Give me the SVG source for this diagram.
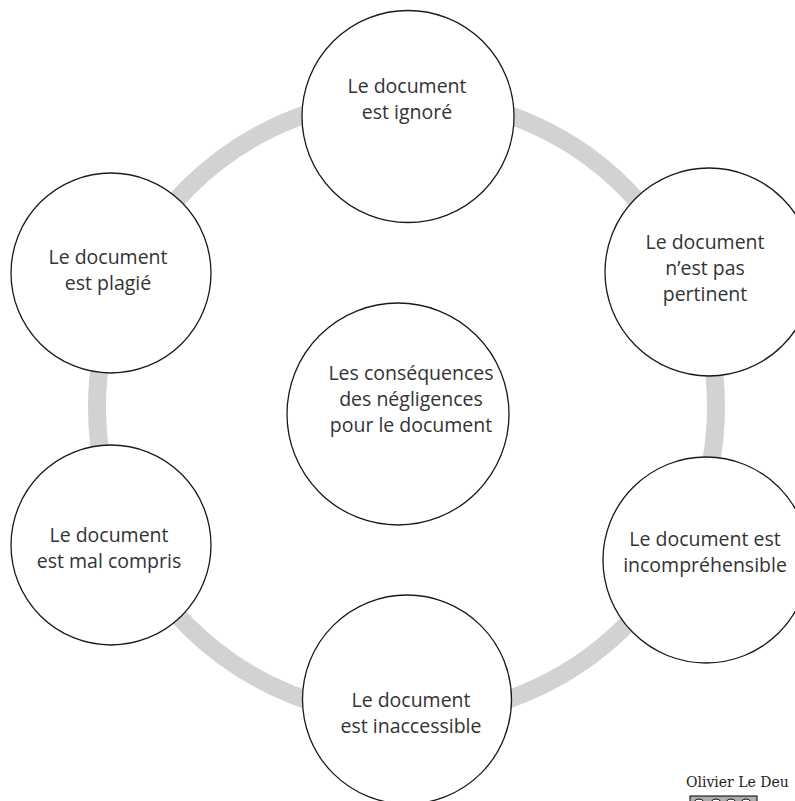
<svg xmlns="http://www.w3.org/2000/svg" width="795" height="801" viewBox="0 0 795 801">
<style>
.node{fill:#fff;stroke:#1a1a1a;stroke-width:1.3}
.lbl{font-family:"Open Sans","Noto Sans",sans-serif;font-size:19.5px;fill:#333;text-anchor:middle}
.ring{fill:none;stroke:#d1d2d4;stroke-width:18}
</style>
<rect width="795" height="801" fill="#fff"/>
<g id="connectors">
<circle class="ring" cx="406.5" cy="407" r="309.5"/>
</g>
<g id="n-top">
<circle class="node" cx="408" cy="116.5" r="106"/>
<text class="lbl" x="407" y="93">Le document</text>
<text class="lbl" x="407" y="119">est ignoré</text>
</g>
<g id="n-upper-right">
<circle class="node" cx="709" cy="272" r="104"/>
<text class="lbl" x="705" y="249">Le document</text>
<text class="lbl" x="705" y="275">n’est pas</text>
<text class="lbl" x="705" y="301">pertinent</text>
</g>
<g id="n-lower-right">
<circle class="node" cx="706" cy="560" r="103"/>
<text class="lbl" x="705" y="546">Le document est</text>
<text class="lbl" x="705" y="572">incompréhensible</text>
</g>
<g id="n-bottom">
<circle class="node" cx="407" cy="699.5" r="104.5"/>
<text class="lbl" x="411" y="707">Le document</text>
<text class="lbl" x="411" y="733">est inaccessible</text>
</g>
<g id="n-lower-left">
<circle class="node" cx="111" cy="545" r="100"/>
<text class="lbl" x="109" y="542">Le document</text>
<text class="lbl" x="109" y="568">est mal compris</text>
</g>
<g id="n-upper-left">
<circle class="node" cx="111" cy="273" r="100"/>
<text class="lbl" x="108" y="264">Le document</text>
<text class="lbl" x="108" y="290">est plagié</text>
</g>
<g id="n-center">
<circle class="node" cx="398" cy="414" r="111"/>
<text class="lbl" x="411" y="380">Les conséquences</text>
<text class="lbl" x="411" y="406">des négligences</text>
<text class="lbl" x="411" y="432">pour le document</text>
</g>
<g id="attribution">
<text x="686" y="787" font-family="DejaVu Serif,Liberation Serif,serif" font-size="14" fill="#222">Olivier Le Deu</text>
<rect x="690" y="796" width="67" height="20" fill="#abb1aa" stroke="#000" stroke-width="1"/>
<circle cx="699" cy="805" r="6" fill="#fff" stroke="#000"/>
<circle cx="716" cy="805" r="6" fill="#fff" stroke="#000"/>
<circle cx="731" cy="805" r="6" fill="#fff" stroke="#000"/>
<circle cx="746" cy="805" r="6" fill="#fff" stroke="#000"/>
</g>
</svg>
